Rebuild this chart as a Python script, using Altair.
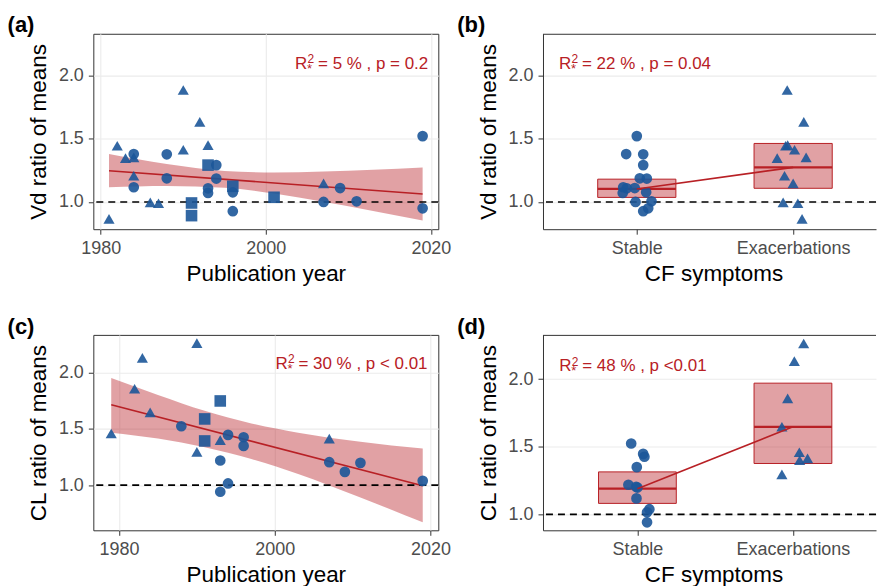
import altair as alt
import pandas as pd

# ---------------- values ----------------
# Vd ratio of means (panels a, b)
vd_year = [1981, 1982, 1983, 1984, 1984, 1986, 1987, 1990, 1990, 1992, 1993, 2007,
           1984, 1984, 1988, 1988, 1993, 1993, 1994, 1994, 1996, 1996, 2007, 2009, 2011, 2019, 2019,
           1991, 1991, 1993, 1996, 2001]
vd_value = [0.866, 1.444, 1.346, 1.352, 1.207, 0.997, 0.990, 1.884, 1.412, 1.632, 1.449, 1.147,
            1.378, 1.116, 1.376, 1.187, 1.108, 1.071, 1.291, 1.185, 1.076, 0.927, 1.000, 1.110, 1.005, 1.520, 0.950,
            0.992, 0.892, 1.291, 1.124, 1.037]
vd_group = ["Exacerbations"] * 12 + ["Stable"] * 15 + ["Unknown"] * 5
vd_jitter = [0.057, -0.048, -0.102, 0.083, -0.055, -0.064, 0.030, -0.038, 0.009, 0.068, -0.035, 0.000,
             -0.068, -0.087, 0.041, 0.019, -0.064, -0.090, 0.041, 0.064, 0.060, 0.041, -0.008, -0.013, 0.094, 0.000, 0.073,
             0.0, 0.0, 0.0, 0.0, 0.0]

# CL ratio of means (panels c, d)
cl_year = [1979, 1982, 1983, 1984, 1990, 1990, 1993, 2007,
           1988, 1993, 1993, 1994, 1994, 1996, 1996, 2007, 2009, 2011, 2019,
           1991, 1991, 1993]
cl_value = [1.459, 1.858, 2.133, 1.648, 2.263, 1.296, 1.400, 1.414,
            1.524, 1.219, 0.941, 1.447, 1.015, 1.426, 1.349, 1.204, 1.118, 1.198, 1.038,
            1.589, 1.393, 1.749]
cl_group = ["Exacerbations"] * 8 + ["Stable"] * 11 + ["Unknown"] * 3
cl_jitter = [0.041, -0.034, 0.009, -0.071, 0.069, -0.071, 0.043, 0.094,
             -0.040, -0.058, 0.062, 0.037, 0.062, 0.045, -0.004, -0.008, -0.006, 0.000, 0.077,
             0.0, 0.0, 0.0]

# fitted line and confidence band
vd_fit_x = [1981, 2019]
vd_fit_y = [1.247, 1.063]
vd_band_x = [1981, 1988, 1995, 2001, 2007, 2013, 2019]
vd_band_lo = [1.116, 1.126, 1.113, 1.066, 1.001, 0.929, 0.853]
vd_band_hi = [1.378, 1.300, 1.245, 1.233, 1.241, 1.255, 1.273]

cl_fit_x = [1979, 2019]
cl_fit_y = [1.716, 0.994]
cl_band_x = [1979, 1985, 1991, 1997, 2003, 2011, 2019]
cl_band_lo = [1.467, 1.414, 1.337, 1.233, 1.099, 0.890, 0.669]
cl_band_hi = [1.953, 1.802, 1.661, 1.549, 1.467, 1.386, 1.325]

# group means with intervals (crossbars)
box_groups = ["Stable", "Exacerbations"]
box_pos = [1, 2]
vd_box_mid = [1.103, 1.273]
vd_box_lo = [1.036, 1.108]
vd_box_hi = [1.180, 1.462]
cl_box_mid = [1.190, 1.647]
cl_box_lo = [1.081, 1.376]
cl_box_hi = [1.314, 1.970]

# annotations: (x, y, text after R2*)
ann_a = (2003.55, 2.053, "= 5 % , p = 0.2")
ann_b = (0.503, 2.053, "= 22 % , p = 0.04")
ann_c = (2000.1, 2.035, "= 30 % , p < 0.01")
ann_d = (0.498, 2.057, "= 48 % , p <0.01")

# ---------------- styling ----------------
FONT = "Liberation Sans"
BLUE = "#1C5799"
RED = "#B82025"
BORDER = "#333333"
GRID = "#EBEBEB"
TICKLAB = "#4D4D4D"
LW, RW, H = 346, 334, 196
SHAPES = ["Stable", "Exacerbations", "Unknown"]


def y_enc(domain, title, right=False):
    return alt.Y(
        "y:Q",
        scale=alt.Scale(domain=domain, nice=False, zero=False),
        axis=alt.Axis(values=[1.0, 1.5, 2.0], format=".1f", title=title, grid=True,
                      gridColor=GRID, gridWidth=1.1, domain=right, domainColor=BORDER,
                      domainWidth=1, tickColor=BORDER, tickSize=5, tickWidth=1,
                      labelColor=TICKLAB, labelFontSize=18, labelPadding=5,
                      titleFontSize=22.5, titleColor="black", titleFontWeight="normal",
                      titleBaseline="alphabetic", titleAlign="center", titleAngle=270,
                      titleX=-48, titleY=H / 2),
    )


def x_year(domain):
    return alt.X(
        "x:Q",
        scale=alt.Scale(domain=domain, nice=False, zero=False),
        axis=alt.Axis(values=[1980, 2000, 2020], format="d", title="Publication year",
                      grid=True, gridColor=GRID, gridWidth=1.1, domain=False,
                      tickColor=BORDER, tickSize=5, tickWidth=1, labelColor=TICKLAB,
                      labelFontSize=18, labelBaseline="alphabetic", labelPadding=19,
                      titleFontSize=22.5, titleColor="black", titleFontWeight="normal",
                      titleBaseline="alphabetic", titleY=51.5),
    )


def x_cat(domain):
    return alt.X(
        "x:Q",
        scale=alt.Scale(domain=domain, nice=False, zero=False),
        axis=alt.Axis(values=[1, 2], labelExpr="datum.value == 1 ? 'Stable' : 'Exacerbations'",
                      title="CF symptoms", grid=False, domain=True, domainColor=BORDER,
                      domainWidth=1, tickColor=BORDER, tickSize=5, tickWidth=1,
                      labelColor=TICKLAB, labelFontSize=18, labelBaseline="alphabetic",
                      labelPadding=19, titleFontSize=22.5, titleColor="black",
                      titleFontWeight="normal", titleBaseline="alphabetic",
                      titleX=171, titleY=51.5),
    )


def points(df, X, Y):
    return alt.Chart(df).mark_point(filled=True, opacity=0.9, color=BLUE, strokeWidth=0).encode(
        x=X, y=Y,
        shape=alt.Shape("g:N", scale=alt.Scale(domain=SHAPES, range=["circle", "triangle-up", "square"]), legend=None),
        size=alt.Size("g:N", scale=alt.Scale(domain=SHAPES, range=[115, 135, 78]), legend=None),
    )


def annotation(ann, X, Y):
    x0, y0, rest = ann
    base = alt.Chart(pd.DataFrame({"x": [x0], "y": [y0]}))
    kw = dict(align="left", baseline="alphabetic", color=RED)
    return [
        base.mark_text(text="R", fontSize=17, **kw).encode(x=X, y=Y),
        base.mark_text(text="2", fontSize=12, dx=12.5, dy=-5.5, **kw).encode(x=X, y=Y),
        base.mark_text(text="*", fontSize=13, dx=12, dy=4, **kw).encode(x=X, y=Y),
        base.mark_text(text=rest, fontSize=17, dx=23, **kw).encode(x=X, y=Y),
    ]


def tag_title(tag):
    return alt.TitleParams(text=tag, anchor="start", frame="group", dx=-86, offset=-20.7,
                           fontSize=22, fontWeight="bold", color="black",
                           baseline="alphabetic", font=FONT)


def left_panel(year, value, group, bx, blo, bhi, fx, fy, xdom, ydom, ytitle, ann, tag):
    X = x_year(xdom)
    Y = y_enc(ydom, ytitle)
    pts = pd.DataFrame({"x": year, "y": value, "g": group})
    band = pd.DataFrame({"x": bx, "y": blo, "y2": bhi})
    fit = pd.DataFrame({"x": fx, "y": fy})
    ref = pd.DataFrame({"y": [1.0]})
    layers = [
        alt.Chart(band).mark_area(color=RED, opacity=0.42, interpolate="monotone").encode(
            x=X, y=Y, y2=alt.Y2("y2:Q")),
        alt.Chart(fit).mark_line(color=RED, strokeWidth=1.6).encode(x=X, y=Y),
        alt.Chart(ref).mark_rule(color="black", strokeDash=[7, 5], strokeWidth=1.6).encode(y=Y),
        points(pts, X, Y),
    ] + annotation(ann, X, Y)
    return alt.layer(*layers).properties(width=LW, height=H, title=tag_title(tag))


def right_panel(value, group, jitter, bmid, blo, bhi, xdom, ydom, ytitle, ann, tag):
    X = x_cat(xdom)
    Y = y_enc(ydom, ytitle, right=True)
    posmap = dict(zip(box_groups, box_pos))
    rows = [(posmap[g] + j, v, g) for v, g, j in zip(value, group, jitter) if g in posmap]
    pts = pd.DataFrame(rows, columns=["x", "y", "g"])
    box = pd.DataFrame({"x": [p - 0.25 for p in box_pos], "x2": [p + 0.25 for p in box_pos],
                        "y": blo, "y2": bhi})
    mid = pd.DataFrame({"x": [p - 0.25 for p in box_pos], "x2": [p + 0.25 for p in box_pos],
                        "y": bmid})
    link = pd.DataFrame({"x": box_pos, "y": bmid})
    ref = pd.DataFrame({"y": [1.0]})
    layers = [
        alt.Chart(box).mark_rect(fill=RED, fillOpacity=0.42, stroke=RED, strokeWidth=1).encode(
            x=X, x2=alt.X2("x2:Q"), y=Y, y2=alt.Y2("y2:Q")),
        alt.Chart(mid).mark_rule(color=RED, strokeWidth=2.2).encode(x=X, x2=alt.X2("x2:Q"), y=Y),
        alt.Chart(ref).mark_rule(color="black", strokeDash=[7, 5], strokeWidth=1.6).encode(y=Y),
        alt.Chart(pd.DataFrame({"k": [0]})).mark_rule(color=BORDER, strokeWidth=1).encode(
            x=alt.value(0), x2=alt.value(RW), y=alt.value(0.5)),
        points(pts, X, Y),
        alt.Chart(link).mark_line(color=RED, strokeWidth=1.6).encode(x=X, y=Y),
    ] + annotation(ann, X, Y)
    return alt.layer(*layers).properties(width=RW, height=H, title=tag_title(tag),
                                         view=alt.ViewBackground(stroke="transparent"))


pa = left_panel(vd_year, vd_value, vd_group, vd_band_x, vd_band_lo, vd_band_hi,
                vd_fit_x, vd_fit_y, [1979.1, 2020.9], [0.785, 2.328], "Vd ratio of means", ann_a, "(a)")
pb = right_panel(vd_value, vd_group, vd_jitter, vd_box_mid, vd_box_lo, vd_box_hi,
                 [0.40, 2.53], [0.785, 2.328], "Vd ratio of means", ann_b, "(b)")
pc = left_panel(cl_year, cl_value, cl_group, cl_band_x, cl_band_lo, cl_band_hi,
                cl_fit_x, cl_fit_y, [1976.7, 2021.0], [0.598, 2.337], "CL ratio of means", ann_c, "(c)")
pdd = right_panel(cl_value, cl_group, cl_jitter, cl_box_mid, cl_box_lo, cl_box_hi,
                  [0.393, 2.534], [0.882, 2.327], "CL ratio of means", ann_d, "(d)")

chart = alt.concat(pa, pb, pc, pdd, columns=2,
                   spacing=alt.RowColnumber(row=106, column=105), bounds="flush")
chart = chart.resolve_scale(x="independent", y="independent").properties(
    padding={"left": 6.6, "top": 13, "right": 0, "bottom": 0}
).configure(font=FONT).configure_view(stroke=BORDER, strokeWidth=1).configure_axis(
    labelFlush=False, labelOverlap=False, labelFont=FONT, titleFont=FONT)

chart.save("out.html", embed_options={"renderer": "svg", "actions": False})
